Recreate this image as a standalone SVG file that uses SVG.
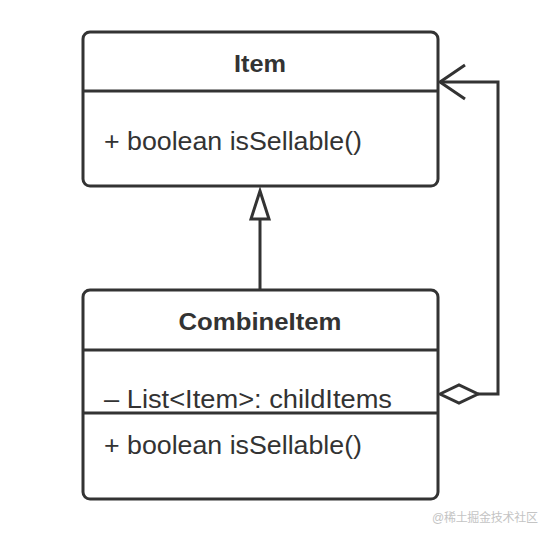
<svg xmlns="http://www.w3.org/2000/svg" width="552" height="536" viewBox="0 0 552 536">
<style>
.box{fill:#fff;stroke:#333;stroke-width:3}
.ln{stroke:#333;stroke-width:3;fill:none}
.t{font-family:"Liberation Sans",Arial,sans-serif;fill:#333}
.title{font-size:24px;font-weight:bold;text-anchor:middle}
.body{font-size:25px}
</style>
<rect width="552" height="536" fill="#fff"/>
<g id="connectors">
<polyline class="ln" points="260,290 260,218"/>
<polygon points="260,191 251,219 269,219" fill="#fff" stroke="#333" stroke-width="3" stroke-linejoin="miter"/>
<polyline class="ln" points="478,394 498,394 498,82 440,82"/>
<polyline class="ln" points="465,65 440,82 465,99"/>
<polygon points="440,394 459,385 478,394 459,403" fill="#fff" stroke="#333" stroke-width="3"/>
</g>
<g id="item">
<rect class="box" x="83" y="32" width="355" height="154" rx="7"/>
<line class="ln" x1="83" y1="91" x2="438" y2="91"/>
<text class="t title" x="260" y="72" textLength="52" lengthAdjust="spacingAndGlyphs">Item</text>
<text class="t body" x="104" y="150" textLength="258" lengthAdjust="spacingAndGlyphs">+ boolean isSellable()</text>
</g>
<g id="combineitem">
<rect class="box" x="83" y="290" width="355" height="209" rx="7"/>
<line class="ln" x1="83" y1="350" x2="438" y2="350"/>
<line class="ln" x1="83" y1="413" x2="438" y2="413"/>
<text class="t title" x="260" y="330" textLength="163" lengthAdjust="spacingAndGlyphs">CombineItem</text>
<text class="t body" x="104" y="408" textLength="288" lengthAdjust="spacingAndGlyphs">– List&lt;Item&gt;: childItems</text>
<text class="t body" x="104" y="454" textLength="258" lengthAdjust="spacingAndGlyphs">+ boolean isSellable()</text>
</g>
<text x="432" y="522" font-family="'Liberation Sans','Noto Sans CJK SC',sans-serif" font-size="12" fill="#c4c4c4" textLength="106">@稀土掘金技术社区</text>
</svg>
